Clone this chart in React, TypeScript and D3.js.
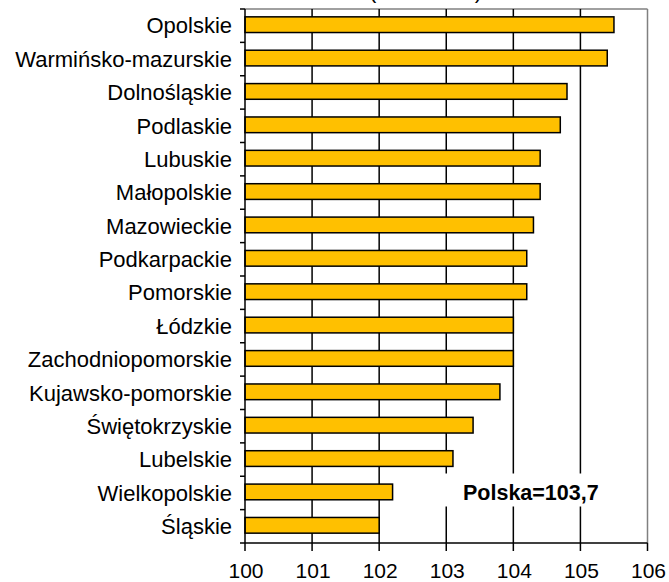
import React from "react";
import * as d3 from "d3";

const categories = [
  "Opolskie",
  "Warmińsko-mazurskie",
  "Dolnośląskie",
  "Podlaskie",
  "Lubuskie",
  "Małopolskie",
  "Mazowieckie",
  "Podkarpackie",
  "Pomorskie",
  "Łódzkie",
  "Zachodniopomorskie",
  "Kujawsko-pomorskie",
  "Świętokrzyskie",
  "Lubelskie",
  "Wielkopolskie",
  "Śląskie",
];
const values = [105.5, 105.4, 104.8, 104.7, 104.4, 104.4, 104.3, 104.2, 104.2, 104.0, 104.0, 103.8, 103.4, 103.1, 102.2, 102.0];
const xTicks = [100, 101, 102, 103, 104, 105, 106];
const titleText = "(2009=100)";
const noteText = "Polska=103,7";

export default function App() {
  const W = 669;
  const H = 582;
  const left = 245;
  const right = 647.5;
  const top = 9;
  const bottom = 543;
  const x = d3.scaleLinear().domain([100, 106]).range([left, right]);
  const y = d3.scaleBand<string>().domain(categories).range([top, bottom]).padding(0);
  const step = y.step();
  const barOff = step * 0.235;
  const barH = step * 0.47;
  const font = "'Liberation Sans', Arial, sans-serif";
  const boundaries = d3.range(categories.length + 1).map((i) => top + i * step);

  return (
    <svg
      width={W}
      height={H}
      style={{ position: "absolute", left: 0, top: 0, background: "#fff" }}
      fontFamily={font}
    >
      <rect x={0} y={0} width={W} height={H} fill="#fff" />
      {/* title, mostly cut off as in the original */}
      <text x={425.5} y={-2} textAnchor="middle" fontSize={22} fill="#000">
        {titleText}
      </text>
      {/* plot frame top/right */}
      <line x1={left} x2={right} y1={top} y2={top} stroke="#808080" strokeWidth={1.5} />
      <line x1={right} x2={right} y1={top} y2={bottom} stroke="#808080" strokeWidth={1.5} />
      {/* gridlines */}
      {xTicks.slice(1, -1).map((t) => (
        <line key={t} x1={x(t)} x2={x(t)} y1={top} y2={bottom} stroke="#000" strokeWidth={1.5} />
      ))}
      {/* bars */}
      {categories.map((c, i) => (
        <rect
          key={c}
          x={x(100)}
          y={y(c)! + barOff}
          width={x(values[i]) - x(100)}
          height={barH}
          fill="#FFC000"
          stroke="#000"
          strokeWidth={1.5}
        />
      ))}
      {/* note box */}
      <rect x={430} y={473.5} width={185} height={33} fill="#fff" />
      <text x={463} y={500} fontSize={21.5} fontWeight="bold" fill="#000">
        {noteText}
      </text>
      {/* axes */}
      <line x1={left} x2={left} y1={top} y2={bottom} stroke="#000" strokeWidth={1.5} />
      {boundaries.map((b, i) => (
        <line key={i} x1={left - 5} x2={left} y1={b} y2={b} stroke="#000" strokeWidth={1.5} />
      ))}
      <line x1={left} x2={right} y1={bottom} y2={bottom} stroke="#000" strokeWidth={1.5} />
      {xTicks.map((t) => (
        <g key={t}>
          <line x1={x(t)} x2={x(t)} y1={bottom} y2={bottom + 8} stroke="#000" strokeWidth={1.5} />
          <text x={x(t) + 1} y={578} textAnchor="middle" fontSize={21} fill="#000">
            {t}
          </text>
        </g>
      ))}
      {categories.map((c) => (
        <text
          key={c}
          x={232}
          y={y(c)! + step / 2 + 7.8}
          textAnchor="end"
          fontSize={22}
          fill="#000"
        >
          {c}
        </text>
      ))}
    </svg>
  );
}
